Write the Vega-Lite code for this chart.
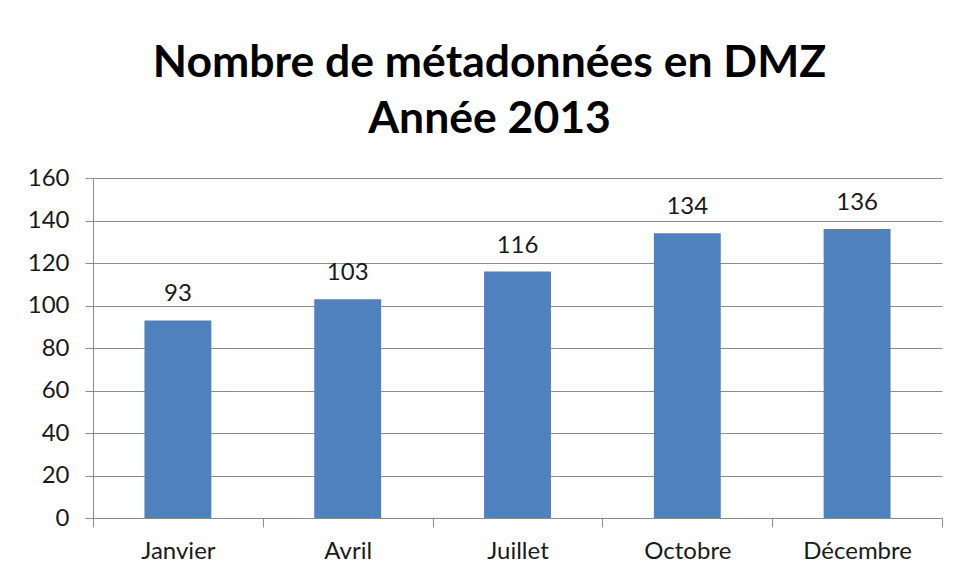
{
  "$schema": "https://vega.github.io/schema/vega-lite/v6.json",
  "width": 849,
  "height": 340,
  "autosize": {"type": "none"},
  "padding": {"left": 93, "top": 178, "right": 11, "bottom": 63},
  "background": "#ffffff",
  "title": {
    "text": ["Nombre de métadonnées en DMZ", "Année 2013"],
    "font": "Lato",
    "fontWeight": "bold",
    "fontSize": 44.5,
    "lineHeight": 56,
    "color": "#000000",
    "anchor": "middle",
    "dx": -28,
    "offset": 24
  },
  "data": {
    "values": [
      {"mois": "Janvier", "nombre": 93},
      {"mois": "Avril", "nombre": 103},
      {"mois": "Juillet", "nombre": 116},
      {"mois": "Octobre", "nombre": 134},
      {"mois": "Décembre", "nombre": 136}
    ]
  },
  "encoding": {
    "x": {
      "field": "mois",
      "type": "nominal",
      "sort": null,
      "scale": {"paddingInner": 0, "paddingOuter": 0},
      "axis": {
        "title": null,
        "labelAngle": 0,
        "labelFont": "Lato",
        "labelFontSize": 24,
        "labelColor": "#1a1a1a",
        "labelPadding": 12,
        "tickBand": "extent",
        "tickSize": 9,
        "tickColor": "#8c8c8c",
        "domainColor": "#8c8c8c",
        "grid": false
      }
    },
    "y": {
      "field": "nombre",
      "type": "quantitative",
      "scale": {"domain": [0, 160], "nice": false},
      "axis": {
        "title": null,
        "values": [0, 20, 40, 60, 80, 100, 120, 140, 160],
        "labelFont": "Lato",
        "labelFontSize": 24,
        "labelColor": "#1a1a1a",
        "labelPadding": 16,
        "tickSize": 8,
        "tickColor": "#8c8c8c",
        "domainColor": "#8c8c8c",
        "grid": true,
        "gridColor": "#8c8c8c",
        "gridWidth": 1
      }
    }
  },
  "layer": [
    {"mark": {"type": "bar", "color": "#4F81BD", "width": {"band": 0.394}}},
    {
      "mark": {"type": "text", "baseline": "alphabetic", "dy": -19, "font": "Lato", "fontSize": 24, "color": "#1a1a1a"},
      "encoding": {"text": {"field": "nombre", "type": "quantitative"}}
    }
  ],
  "config": {"view": {"stroke": null}}
}
